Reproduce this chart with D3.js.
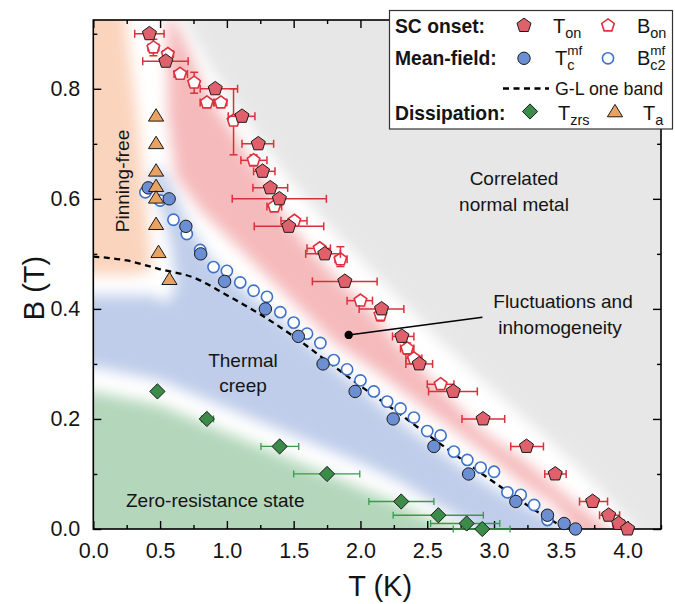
<!DOCTYPE html>
<html><head><meta charset="utf-8">
<script src="https://cdn.jsdelivr.net/npm/d3@7"></script>
<style>
body{margin:0;background:#fff}
svg{display:block}
text{font-family:"Liberation Sans",Arial,Helvetica,sans-serif;fill:#141414}
</style>
</head><body>
<svg id="c" width="675" height="604"></svg>
<script>
// ---------------- data ----------------
const xDomain = [0, 4.25];
const yDomain = [0, 0.925];
const xMajor = [0, 0.5, 1.0, 1.5, 2.0, 2.5, 3.0, 3.5, 4.0];
const xMinor = [0.25, 0.75, 1.25, 1.75, 2.25, 2.75, 3.25, 3.75, 4.25];
const yMajor = [0, 0.2, 0.4, 0.6, 0.8];
const yMinor = [0.1, 0.3, 0.5, 0.7, 0.9];

// SC onset T_on : [T, B, Tlow, Thigh]
const tOnset = [
  [0.42, 0.90, 0.31, 0.53], [0.543, 0.85, 0.37, 0.71], [0.913, 0.80, 0.80, 1.08],
  [1.113, 0.75, 1.01, 1.21], [1.235, 0.70, 1.113, 1.35], [1.267, 0.65, 1.20, 1.36],
  [1.325, 0.62, 1.195, 1.455], [1.393, 0.60, 1.04, 1.745], [1.463, 0.55, 1.205, 1.725],
  [1.733, 0.50, 1.59, 1.85], [1.883, 0.45, 1.64, 2.125], [2.158, 0.40, 1.99, 2.325],
  [2.31, 0.35, 2.24, 2.40], [2.44, 0.30, 2.34, 2.54], [2.695, 0.25, 2.51, 2.875],
  [2.918, 0.20, 2.76, 3.08], [3.243, 0.15, 3.125, 3.37], [3.458, 0.10, 3.38, 3.54],
  [3.738, 0.05, 3.64, 3.85], [3.858, 0.025, 3.79, 3.94], [3.933, 0.01, 3.89, 3.975],
  [4.0, 0.0, null, null]
];
// SC onset B_on : [T, B, Tlow, Thigh, Blow, Bhigh]
const bOnset = [
  [0.45, 0.875, 0.41, 0.49, 0.86, 0.89], [0.558, 0.863, 0.52, 0.60, null, null],
  [0.65, 0.827, 0.605, 0.705, null, null], [0.755, 0.811, 0.72, 0.79, 0.792, 0.83],
  [0.85, 0.775, 0.80, 0.90, null, null], [0.955, 0.775, 0.91, 1.0, null, null],
  [1.05, 0.742, 1.02, 1.08, 0.68, 0.80], [1.2, 0.67, 1.105, 1.30, 0.66, 0.68],
  [1.355, 0.586, 1.30, 1.41, null, null], [1.505, 0.56, 1.405, 1.60, null, null],
  [1.695, 0.51, 1.60, 1.775, null, null], [1.85, 0.49, 1.81, 1.90, 0.477, 0.513],
  [2.0, 0.415, 1.90, 2.09, null, null], [2.15, 0.389, 2.12, 2.18, 0.378, 0.40],
  [2.35, 0.328, 2.30, 2.40, 0.318, 0.338], [2.4, 0.31, 2.34, 2.46, null, null],
  [2.6, 0.263, 2.50, 2.70, null, null]
];
// Mean-field T_c^mf : [T, B]
const tcMF = [
  [0.411, 0.62], [0.568, 0.60], [0.693, 0.55], [0.804, 0.50], [0.983, 0.45],
  [1.288, 0.40], [1.535, 0.35], [1.72, 0.30], [1.96, 0.25], [2.245, 0.20],
  [2.55, 0.15], [2.81, 0.10], [3.163, 0.05], [3.40, 0.025], [3.525, 0.01], [3.61, 0.0]
];
// Mean-field B_c2^mf : [T, B]
const bc2MF = [
  [0.39, 0.612], [0.5, 0.597], [0.6, 0.562], [0.7, 0.536], [0.8, 0.507], [0.9, 0.476],
  [1.0, 0.469], [1.1, 0.448], [1.2, 0.433], [1.3, 0.422], [1.4, 0.394], [1.5, 0.375],
  [1.6, 0.355], [1.7, 0.338], [1.8, 0.307], [1.9, 0.29], [2.0, 0.27], [2.1, 0.25],
  [2.2, 0.2315], [2.3, 0.219], [2.4, 0.2025], [2.5, 0.178], [2.6, 0.17], [2.7, 0.1406],
  [2.8, 0.1255], [2.9, 0.1115], [3.0, 0.104], [3.1, 0.0667], [3.2, 0.062], [3.3, 0.0436],
  [3.4, 0.0164]
];
// G-L one band curve
const glT = [0, 0.25, 0.5, 0.75, 1.0, 1.25, 1.5, 1.75, 2.0, 2.25, 2.5, 2.75, 3.0, 3.25, 3.45, 3.53];
const glB = [0.495, 0.488, 0.472, 0.457, 0.425, 0.39, 0.35, 0.305, 0.26, 0.217, 0.172, 0.128, 0.085, 0.043, 0.013, 0.002];
// Dissipation T_zrs : [T, B, Tlow, Thigh]
const tZrs = [
  [0.48, 0.25, null, null], [0.85, 0.20, 0.81, 0.90], [1.395, 0.15, 1.255, 1.538],
  [1.75, 0.10, 1.50, 1.995], [2.305, 0.05, 2.063, 2.55], [2.583, 0.025, 2.245, 2.92],
  [2.795, 0.01, 2.525, 3.043], [2.912, 0.0, 2.695, 3.12]
];
// Dissipation T_a : [T, B]
const tA = [[0.47, 0.75], [0.47, 0.70], [0.47, 0.65], [0.47, 0.622], [0.47, 0.601], [0.47, 0.553], [0.488, 0.502], [0.57, 0.453]];

// shaded phase regions (boundaries, [T, B])
const regionGrey = [[0.62,1.05],[4.5,1.05],[4.5,-0.1],[4.1,-0.1],[4.06,0],[3.8,0.07],[3.55,0.13],[3.05,0.24],[2.6,0.34],[2.2,0.44],[1.8,0.54],[1.45,0.64],[1.15,0.74],[0.9,0.83],[0.68,0.925]];
const regionPink = [[0.55,0.95],[0.7,0.88],[0.85,0.79],[1.05,0.72],[1.25,0.64],[1.45,0.56],[1.65,0.5],[1.85,0.45],[2.1,0.39],[2.3,0.33],[2.5,0.28],[2.7,0.23],[2.9,0.18],[3.2,0.13],[3.45,0.08],[3.65,0.04],[3.86,0.0],[3.9,-0.1],[3.62,-0.1],[3.6,0.0],[3.45,0.045],[3.2,0.085],[3.0,0.125],[2.7,0.18],[2.4,0.235],[2.1,0.29],[1.8,0.34],[1.55,0.4],[1.3,0.46],[1.05,0.52],[0.8,0.58],[0.62,0.64],[0.56,0.75]];
const regionBlue = [[-0.1,0.425],[0.45,0.425],[0.55,0.41],[0.62,0.44],[0.58,0.52],[0.5,0.59],[0.42,0.635],[0.5,0.66],[0.6,0.615],[0.7,0.56],[0.85,0.5],[1.05,0.45],[1.3,0.4],[1.55,0.35],[1.8,0.295],[2.05,0.245],[2.3,0.195],[2.55,0.15],[2.8,0.105],[3.1,0.06],[3.35,0.03],[3.5,0.0],[3.5,-0.1],[2.9,-0.1],[2.9,0.0],[2.6,0.04],[2.3,0.085],[2.0,0.12],[1.5,0.17],[1.0,0.22],[0.5,0.27],[0,0.295],[-0.1,0.295]];
const regionGreen = [[-0.1,0.25],[0,0.25],[0.5,0.225],[1.0,0.175],[1.5,0.125],[2.0,0.075],[2.3,0.045],[2.5,0.02],[2.75,0.0],[2.75,-0.1],[-0.1,-0.1]];
const regionPeach = [[-0.1,1.05],[0.2,1.05],[0.25,0.9],[0.33,0.75],[0.38,0.62],[0.42,0.52],[0.44,0.47],[0.3,0.462],[-0.1,0.462]];

// ---------------- drawing ----------------
const svg = d3.select('#c');
const M = {l: 93.3, r: 661, t: 20, b: 529};
const x = d3.scaleLinear().domain(xDomain).range([M.l, M.r]);
const y = d3.scaleLinear().domain(yDomain).range([M.b, M.t]);

const defs = svg.append('defs');
defs.append('clipPath').attr('id', 'clip').append('rect')
  .attr('x', M.l).attr('y', M.t).attr('width', M.r - M.l).attr('height', M.b - M.t);
defs.append('filter').attr('id', 'blur')
  .attr('filterUnits', 'userSpaceOnUse').attr('x', 0).attr('y', 0).attr('width', 700).attr('height', 620)
  .append('feGaussianBlur').attr('stdDeviation', 7);

const bg = svg.append('g').attr('clip-path', 'url(#clip)');
bg.append('rect').attr('x', M.l).attr('y', M.t).attr('width', M.r - M.l).attr('height', M.b - M.t).attr('fill', '#fff');
const gBlur = bg.append('g').attr('filter', 'url(#blur)');
const poly = d3.line().x(d => x(d[0])).y(d => y(d[1]));
[[regionGrey, '#e7e7e7'], [regionPeach, '#fbd4bd'], [regionGreen, '#b4d7bb'],
 [regionBlue, '#bfcdea'], [regionPink, '#f5babc']].forEach(([pts, c]) => {
  gBlur.append('path').attr('d', poly(pts) + 'Z').attr('fill', c);
});

// axes
function styleAxis(g, labels) {
  g.select('.domain').remove();
  g.selectAll('.tick line').attr('stroke', '#000').attr('stroke-width', 1.4);
  if (labels) g.selectAll('.tick text').attr('font-size', 21.5).attr('fill', '#141414')
    .attr('font-family', '"Liberation Sans",Arial,sans-serif');
}
const fmt = d3.format('.1f');
svg.append('g').attr('transform', `translate(0,${M.b})`)
  .call(d3.axisBottom(x).tickValues(xMajor).tickSize(-8).tickPadding(14).tickFormat(fmt)).call(g => styleAxis(g, true));
svg.append('g').attr('transform', `translate(0,${M.b})`)
  .call(d3.axisBottom(x).tickValues(xMinor).tickSize(-4).tickFormat('')).call(g => styleAxis(g, false));
svg.append('g').attr('transform', `translate(0,${M.t})`)
  .call(d3.axisTop(x).tickValues(xMajor).tickSize(-8).tickFormat('')).call(g => styleAxis(g, false));
svg.append('g').attr('transform', `translate(0,${M.t})`)
  .call(d3.axisTop(x).tickValues(xMinor).tickSize(-4).tickFormat('')).call(g => styleAxis(g, false));
svg.append('g').attr('transform', `translate(${M.l},0)`)
  .call(d3.axisLeft(y).tickValues(yMajor).tickSize(-8).tickPadding(13).tickFormat(fmt)).call(g => styleAxis(g, true));
svg.append('g').attr('transform', `translate(${M.l},0)`)
  .call(d3.axisLeft(y).tickValues(yMinor).tickSize(-4).tickFormat('')).call(g => styleAxis(g, false));
svg.append('g').attr('transform', `translate(${M.r},0)`)
  .call(d3.axisRight(y).tickValues(yMajor).tickSize(-8).tickFormat('')).call(g => styleAxis(g, false));
svg.append('g').attr('transform', `translate(${M.r},0)`)
  .call(d3.axisRight(y).tickValues(yMinor).tickSize(-4).tickFormat('')).call(g => styleAxis(g, false));

svg.append('rect').attr('x', M.l).attr('y', M.t).attr('width', M.r - M.l).attr('height', M.b - M.t)
  .attr('fill', 'none').attr('stroke', '#000').attr('stroke-width', 1.6);

// axis titles
svg.append('text').attr('x', (M.l + M.r) / 2 + 3).attr('y', 596).attr('text-anchor', 'middle')
  .attr('font-size', 29).text('T (K)');
svg.append('text').attr('transform', 'translate(44,288) rotate(-90)').attr('text-anchor', 'middle')
  .attr('font-size', 29).text('B (T)');

// G-L dashed line
const gl = glT.map((t, i) => [t, glB[i]]);
svg.append('path').attr('d', d3.line().curve(d3.curveMonotoneX).x(d => x(d[0])).y(d => y(d[1]))(gl))
  .attr('fill', 'none').attr('stroke', '#000').attr('stroke-width', 2.3).attr('stroke-dasharray', '6,4.5');

// annotation pointer
const ptrFrom = [1.912, 0.3527], ptrTo = [2.913, 0.385];
svg.append('line').attr('x1', x(ptrFrom[0])).attr('y1', y(ptrFrom[1])).attr('x2', x(ptrTo[0])).attr('y2', y(ptrTo[1]))
  .attr('stroke', '#000').attr('stroke-width', 1.5);
svg.append('circle').attr('cx', x(ptrFrom[0])).attr('cy', y(ptrFrom[1])).attr('r', 4.2).attr('fill', '#000');

// symbol shapes
const pentagon = {draw(ctx, size) {
  const r = Math.sqrt(size);
  for (let k = 0; k < 5; k++) {
    const a = -Math.PI / 2 + k * 2 * Math.PI / 5;
    if (k === 0) ctx.moveTo(r * Math.cos(a), r * Math.sin(a)); else ctx.lineTo(r * Math.cos(a), r * Math.sin(a));
  }
  ctx.closePath();
}};
const diamond = {draw(ctx, size) {
  const r = Math.sqrt(size);
  ctx.moveTo(0, -r); ctx.lineTo(r, 0); ctx.lineTo(0, r); ctx.lineTo(-r, 0); ctx.closePath();
}};
const triangle = {draw(ctx, size) {
  const r = Math.sqrt(size);
  ctx.moveTo(0, -r * 0.95); ctx.lineTo(r * 0.95, r * 0.6); ctx.lineTo(-r * 0.95, r * 0.6); ctx.closePath();
}};
const sym = (type, r) => d3.symbol().type(type).size(r * r)();

// error bars
function hErr(g, data, color, cap, w) {
  data.filter(d => d[2] != null).forEach(d => {
    const yy = y(d[1]);
    g.append('line').attr('x1', x(d[2])).attr('x2', x(d[3])).attr('y1', yy).attr('y2', yy);
    g.append('line').attr('x1', x(d[2])).attr('x2', x(d[2])).attr('y1', yy - cap).attr('y2', yy + cap);
    g.append('line').attr('x1', x(d[3])).attr('x2', x(d[3])).attr('y1', yy - cap).attr('y2', yy + cap);
  });
  g.attr('stroke', color).attr('stroke-width', w);
}
function vErr(g, data, color, cap, w) {
  data.filter(d => d[4] != null).forEach(d => {
    const xx = x(d[0]);
    g.append('line').attr('x1', xx).attr('x2', xx).attr('y1', y(d[4])).attr('y2', y(d[5]));
    g.append('line').attr('x1', xx - cap).attr('x2', xx + cap).attr('y1', y(d[4])).attr('y2', y(d[4]));
    g.append('line').attr('x1', xx - cap).attr('x2', xx + cap).attr('y1', y(d[5])).attr('y2', y(d[5]));
  });
  g.attr('stroke', color).attr('stroke-width', w);
}

const RED = '#d8313c', REDFILL = '#e0616b', BLUEFILL = '#6b8fd2', BLUELINE = '#3f72c6',
      GREEN = '#3b8c48', GREENBAR = '#3a9a4a', ORANGE = '#e8a263', DARK = '#1a1a1a';
const R_PENT = 7.4, R_OPENT = 6.6, R_CIRC = 6.2, R_OCIRC = 5.6, R_DIAM = 7.6, R_TRI = 8;

// markers: open circles, filled circles
svg.append('g').selectAll('circle').data(bc2MF).join('circle')
  .attr('cx', d => x(d[0])).attr('cy', d => y(d[1])).attr('r', R_OCIRC)
  .attr('fill', '#fff').attr('stroke', BLUELINE).attr('stroke-width', 1.6);
svg.append('g').selectAll('circle').data(tcMF).join('circle')
  .attr('cx', d => x(d[0])).attr('cy', d => y(d[1])).attr('r', R_CIRC)
  .attr('fill', BLUEFILL).attr('stroke', DARK).attr('stroke-width', 1);
// triangles
svg.append('g').selectAll('path').data(tA).join('path')
  .attr('d', sym(triangle, R_TRI)).attr('transform', d => `translate(${x(d[0])},${y(d[1])})`)
  .attr('fill', ORANGE).attr('stroke', DARK).attr('stroke-width', 1);
// green diamonds
hErr(svg.append('g'), tZrs, GREENBAR, 3.5, 1.3);
svg.append('g').selectAll('path').data(tZrs).join('path')
  .attr('d', sym(diamond, R_DIAM)).attr('transform', d => `translate(${x(d[0])},${y(d[1])})`)
  .attr('fill', GREEN).attr('stroke', DARK).attr('stroke-width', 1);
// B_on
hErr(svg.append('g'), bOnset, RED, 4, 1.5);
vErr(svg.append('g'), bOnset, RED, 4, 1.5);
svg.append('g').selectAll('path').data(bOnset).join('path')
  .attr('d', sym(pentagon, R_OPENT)).attr('transform', d => `translate(${x(d[0])},${y(d[1])})`)
  .attr('fill', '#fff').attr('stroke', '#e0303e').attr('stroke-width', 1.6);
// T_on
hErr(svg.append('g'), tOnset, RED, 4, 1.5);
svg.append('g').selectAll('path').data(tOnset).join('path')
  .attr('d', sym(pentagon, R_PENT)).attr('transform', d => `translate(${x(d[0])},${y(d[1])})`)
  .attr('fill', REDFILL).attr('stroke', DARK).attr('stroke-width', 1);

// region labels
const lab = (txt, xx, yy, opts = {}) => svg.append('text').attr('x', xx).attr('y', yy)
  .attr('font-size', opts.size || 19).attr('text-anchor', opts.anchor || 'middle').text(txt);
lab('Correlated', 514, 185);
lab('normal metal', 514, 211);
lab('Fluctuations and', 563, 308);
lab('inhomogeneity', 560, 334);
lab('Thermal', 243, 367);
lab('creep', 243, 392);
lab('Zero-resistance state', 126, 507, {anchor: 'start'});
svg.append('text').attr('transform', 'translate(128.5,181) rotate(-90)').attr('text-anchor', 'middle')
  .attr('font-size', 19).text('Pinning-free');

// ---------------- legend ----------------
const lg = svg.append('g');
lg.append('rect').attr('x', 389.5).attr('y', 10.5).attr('width', 283).attr('height', 118.5)
  .attr('fill', '#fff').attr('stroke', '#333').attr('stroke-width', 1.2);
const bold = (t, yy) => lg.append('text').attr('x', 395).attr('y', yy).attr('font-size', 19.3)
  .attr('font-weight', 'bold').text(t);
bold('SC onset:', 32.5); bold('Mean-field:', 65); bold('Dissipation:', 120);

function symText(xx, yy, main, sub, sup) {
  lg.append('text').attr('x', xx).attr('y', yy).attr('font-size', 20).text(main);
  const w = main === 'B' ? 13.3 : 12.2;
  if (sup) lg.append('text').attr('x', xx + w).attr('y', yy - 10).attr('font-size', 13.5).text(sup);
  if (sub) lg.append('text').attr('x', xx + w).attr('y', yy + 5).attr('font-size', 14.5).text(sub);
}
lg.append('path').attr('d', sym(pentagon, R_PENT)).attr('transform', 'translate(524,25.5)')
  .attr('fill', REDFILL).attr('stroke', DARK).attr('stroke-width', 1);
symText(553, 32.5, 'T', 'on');
lg.append('path').attr('d', sym(pentagon, R_OPENT)).attr('transform', 'translate(608,25.5)')
  .attr('fill', '#fff').attr('stroke', '#e0303e').attr('stroke-width', 1.6);
symText(637, 32.5, 'B', 'on');
lg.append('circle').attr('cx', 524).attr('cy', 58.3).attr('r', R_CIRC)
  .attr('fill', BLUEFILL).attr('stroke', DARK).attr('stroke-width', 1);
symText(555, 65, 'T', 'c', 'mf');
lg.append('circle').attr('cx', 608).attr('cy', 58.3).attr('r', R_OCIRC)
  .attr('fill', '#fff').attr('stroke', BLUELINE).attr('stroke-width', 1.6);
symText(637, 65, 'B', 'c2', 'mf');
lg.append('line').attr('x1', 503).attr('x2', 549).attr('y1', 88.5).attr('y2', 88.5)
  .attr('stroke', '#000').attr('stroke-width', 2.3).attr('stroke-dasharray', '6,4.5');
lg.append('text').attr('x', 555).attr('y', 95).attr('font-size', 17.8).text('G-L one band');
lg.append('path').attr('d', sym(diamond, R_DIAM)).attr('transform', 'translate(530,111.5)')
  .attr('fill', GREEN).attr('stroke', DARK).attr('stroke-width', 1);
symText(558, 120, 'T', 'zrs');
lg.append('path').attr('d', sym(triangle, R_TRI)).attr('transform', 'translate(615,112)')
  .attr('fill', ORANGE).attr('stroke', DARK).attr('stroke-width', 1);
symText(643, 120, 'T', 'a');
</script>
</body></html>
